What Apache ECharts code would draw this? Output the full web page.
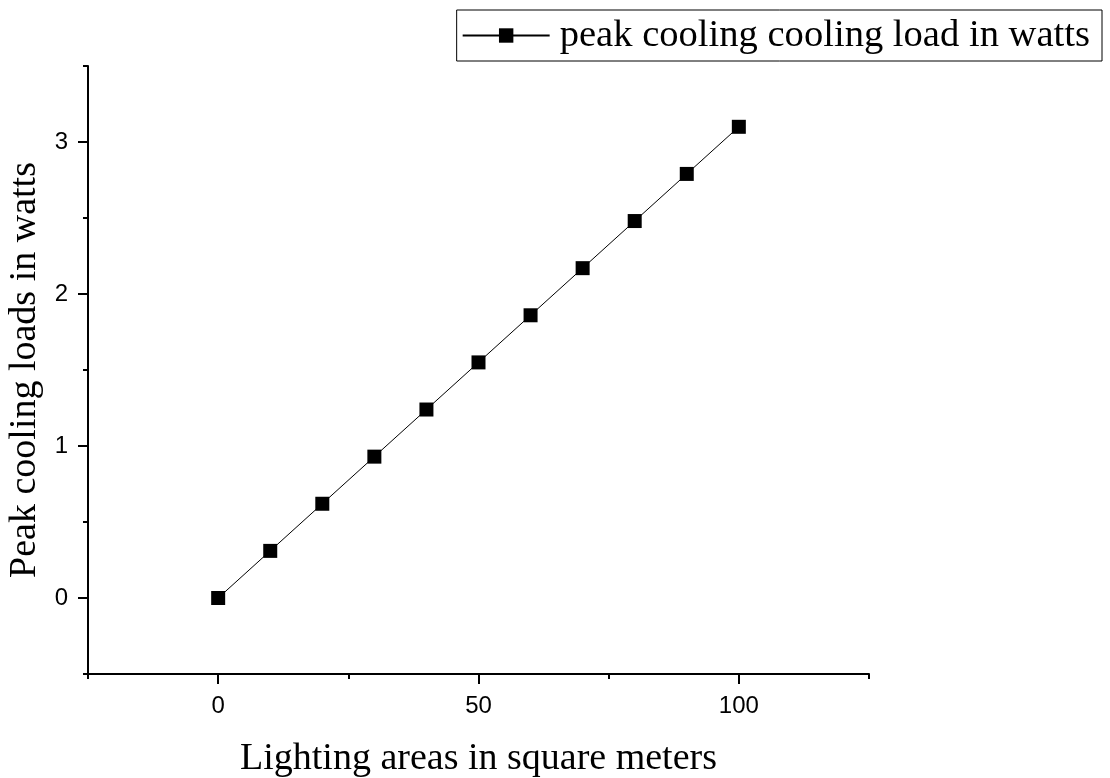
<!DOCTYPE html>
<html>
<head>
<meta charset="utf-8">
<script src="https://cdn.jsdelivr.net/npm/echarts@6/dist/echarts.min.js"></script>
<style>
  html, body { margin: 0; padding: 0; background: #fff; }
  #chart { width: 1110px; height: 778px; }
</style>
</head>
<body>
<div id="chart"></div>
<script>
// Lighting area (m²) vs peak cooling load (W)
const areas = [0, 10, 20, 30, 40, 50, 60, 70, 80, 90, 100];
const loads = [0, 0.31, 0.62, 0.93, 1.24, 1.55, 1.86, 2.17, 2.48, 2.79, 3.10];
const xMajorTicks = [0, 50, 100];
const xMinorTicks = [-25, 25, 75, 125];
const yMajorTicks = [0, 1, 2, 3];
const yMinorTicks = [-0.5, 0.5, 1.5, 2.5, 3.5];
const seriesName = 'peak cooling cooling load in watts';

const chart = echarts.init(document.getElementById('chart'), null, { renderer: 'canvas' });

const serif = 'Liberation Serif';
const sans = 'Liberation Sans';
const axisColor = '#000';

const xRange = { min: -25, max: 125 };
const yRange = { min: -0.5, max: 3.5 };

chart.setOption({
  backgroundColor: '#fff',
  animation: false,
  grid: { left: 88, right: 241, top: 66, bottom: 104, outerBoundsMode: 'none', containLabel: false },
  legend: {
    right: 8,
    top: 10,
    data: [seriesName],
    itemWidth: 87,
    itemHeight: 18,
    itemGap: 0,
    padding: [6, 12, 6, 5],
    borderColor: '#000',
    borderWidth: 1,
    textStyle: { fontFamily: serif, fontSize: 38.6, color: '#000', padding: [0, 0, 0, 5] }
  },
  xAxis: [
    {
      type: 'value',
      ...xRange,
      name: 'Lighting areas in square meters',
      nameLocation: 'middle',
      nameGap: 66,
      nameTextStyle: { fontFamily: serif, fontSize: 38, color: '#000' },
      splitLine: { show: false },
      axisLine: { show: true, onZero: false, lineStyle: { color: axisColor, width: 2 } },
      axisTick: { show: true, inside: false, length: 10, customValues: xMajorTicks, lineStyle: { color: axisColor, width: 2 } },
      axisLabel: { customValues: xMajorTicks, margin: 20, fontFamily: sans, fontSize: 24, color: '#000' }
    },
    {
      type: 'value',
      ...xRange,
      position: 'bottom',
      splitLine: { show: false },
      axisLine: { show: false, onZero: false },
      axisTick: { show: true, inside: false, length: 5, customValues: xMinorTicks, lineStyle: { color: axisColor, width: 2 } },
      axisLabel: { show: false }
    }
  ],
  yAxis: [
    {
      type: 'value',
      ...yRange,
      name: 'Peak cooling loads in watts',
      nameLocation: 'middle',
      nameGap: 38,
      nameTextStyle: { fontFamily: serif, fontSize: 38, color: '#000' },
      splitLine: { show: false },
      axisLine: { show: true, onZero: false, lineStyle: { color: axisColor, width: 2 } },
      axisTick: { show: true, inside: false, length: 10, customValues: yMajorTicks, lineStyle: { color: axisColor, width: 2 } },
      axisLabel: { customValues: yMajorTicks, margin: 20, fontFamily: sans, fontSize: 24, color: '#000' }
    },
    {
      type: 'value',
      ...yRange,
      position: 'left',
      splitLine: { show: false },
      axisLine: { show: false, onZero: false },
      axisTick: { show: true, inside: false, length: 5, customValues: yMinorTicks, lineStyle: { color: axisColor, width: 2 } },
      axisLabel: { show: false }
    }
  ],
  series: [
    {
      name: seriesName,
      type: 'line',
      xAxisIndex: 0,
      yAxisIndex: 0,
      data: areas.map((a, i) => [a, loads[i]]),
      symbol: 'rect',
      symbolSize: 14,
      showAllSymbol: true,
      lineStyle: { color: '#000', width: 1 },
      itemStyle: { color: '#000' }
    }
  ]
});
</script>
</body>
</html>
